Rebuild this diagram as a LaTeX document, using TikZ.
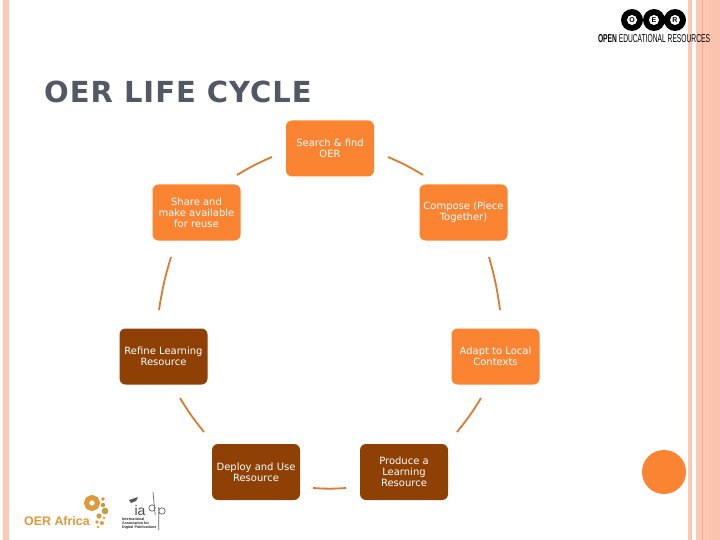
\documentclass[tikz,border=0pt]{standalone}
\usepackage{fontspec}
\setmainfont{DejaVu Sans}
\newfontfamily\condfont{Liberation Sans}
\definecolor{stripe}{HTML}{FBC8B4}
\definecolor{stripedark}{HTML}{F2A98C}
\definecolor{boxorange}{HTML}{FB8433}
\definecolor{boxbrown}{HTML}{8E4005}
\definecolor{linkcol}{HTML}{DB7A30}
\definecolor{titlecol}{HTML}{525965}
\definecolor{africacol}{HTML}{DD9A3C}
\definecolor{africaolive}{HTML}{B8A544}
\tikzset{
  x=1pt,y=-1pt,
  cyclebox/.style={rounded corners=6pt,minimum width=88pt,minimum height=56pt,inner sep=1pt,align=center,text=white,font=\fontsize{10}{10.8}\selectfont},
  orangebox/.style={cyclebox,fill=boxorange},
  brownbox/.style={cyclebox,fill=boxbrown},
  cyclelink/.style={draw=linkcol,line width=1.8pt,bend left=4},
  band/.style={fill=stripe,draw=none},
  oerletter/.style={circle,fill=white,inner sep=0pt,minimum size=10pt,text=black,font=\condfont\bfseries\fontsize{7}{7}\selectfont},
}
\begin{document}
\begin{tikzpicture}
\useasboundingbox (0,0) rectangle (720,540);
\fill[white] (0,0) rectangle (720,540);
% page stripes
\fill[band] (3,0) rectangle (9,540);
\fill[band] (688,0) rectangle (692,540);
\fill[band] (696,0) rectangle (720,540);
\fill[stripedark] (702,0) rectangle (703,540);
\fill[stripe!85!stripedark] (709,0) rectangle (720,540);
% title
\node[anchor=west,inner sep=0pt,text=titlecol,font=\fontsize{29}{29}\selectfont] (title) at (44,92) {\addfontfeature{LetterSpace=3.4}\textbf{OER LIFE CYCLE}};
% cycle boxes
\node[orangebox] (search) at (330,148.5) {Search \& find\\OER};
\node[orangebox] (compose) at (463.5,212.5) {Compose (Piece\\Together)};
\node[orangebox] (adapt) at (495.5,356.5) {Adapt to Local\\Contexts};
\node[brownbox] (produce) at (404,472) {Produce a\\Learning\\Resource};
\node[brownbox] (deploy) at (256,472) {Deploy and Use\\Resource};
\node[brownbox] (refine) at (163.5,356.5) {Refine Learning\\Resource};
\node[orangebox] (share) at (196.5,212.5) {Share and\\make available\\for reuse};
% connector ends
\coordinate (l1a) at (388,157); \coordinate (l1b) at (423,175);
\coordinate (l2a) at (489,257); \coordinate (l2b) at (500,310);
\coordinate (l3a) at (481,398); \coordinate (l3b) at (457,432);
\coordinate (l4a) at (346,488); \coordinate (l4b) at (313,488);
\coordinate (l5a) at (204,432); \coordinate (l5b) at (180,398);
\coordinate (l6a) at (159,310); \coordinate (l6b) at (171,257);
\coordinate (l7a) at (237,175); \coordinate (l7b) at (272,157);
\draw[cyclelink] (l1a) to (l1b);
\draw[cyclelink] (l2a) to (l2b);
\draw[cyclelink] (l3a) to (l3b);
\draw[cyclelink] (l4a) to (l4b);
\draw[cyclelink] (l5a) to (l5b);
\draw[cyclelink] (l6a) to (l6b);
\draw[cyclelink] (l7a) to (l7b);
% decorative circle
\fill[boxorange] (664,472) circle (22);
% OER logo
\fill[black] (632,20) circle (11) (654,20) circle (11) (675,20) circle (11);
\node[oerletter] (logoo) at (632,20) {O};
\node[oerletter] (logoe) at (654,20) {E};
\node[oerletter] (logor) at (675,20) {R};
\node[inner sep=0pt,anchor=center] (logotext) at (654,39) {\resizebox{112pt}{8pt}{\condfont\textbf{OPEN} EDUCATIONAL RESOURCES}};
% OER Africa logo
\node[anchor=west,inner sep=0pt,text=africacol,font=\condfont\bfseries\fontsize{12.4}{14}\selectfont] (africa) at (24,521.5) {OER Africa};
\draw[africacol,line width=5pt] (92,503) circle (5.5);
\fill[africacol!90!red] (103,499) circle (1.8) (103,505) circle (2.2);
\fill[africaolive] (105,511) circle (3.4);
\fill[africacol] (99,516) circle (2.6) (104,518) circle (1.4) (97,522) circle (1.8) (102,523) circle (2) (98,527) circle (1.4);
% iadp logo
\node[inner sep=0pt,text=black!70,font=\condfont\fontsize{14}{14}\selectfont] (ia) at (140,510) {ia};
\draw[black!60,line width=.7pt] (152,508) circle (3.2) (153,492) -- (155.2,515);
\draw[black!60,line width=.7pt] (162,511) circle (3.2) (158.8,507) -- (158.8,530);
\fill[black!65] (129,500) -- (138,497) -- (136,501) -- (131,503) -- cycle;
\node[inner sep=0pt,align=left,anchor=north west,text=black!85,font=\condfont\bfseries\fontsize{3.7}{4.2}\selectfont] (iadtext) at (122,517.5) {International\\Association for\\Digital Publications};
\end{tikzpicture}
\end{document}
